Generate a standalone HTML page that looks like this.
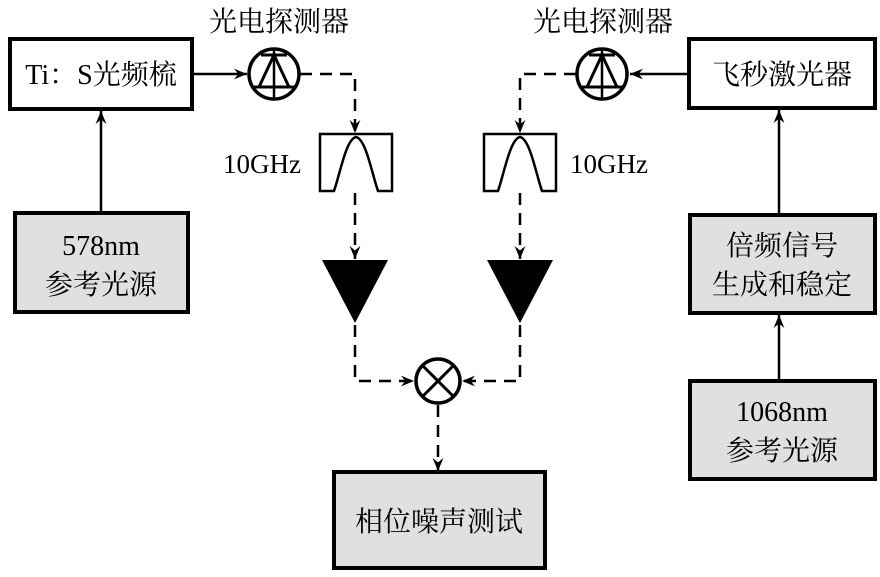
<!DOCTYPE html>
<html><head><meta charset="utf-8"><style>
html,body{margin:0;padding:0;background:#fff;}
svg{display:block;}
text{font-family:"Liberation Serif","Noto Serif CJK SC","Noto Sans CJK SC",serif;fill:#000;}
</style></head><body>
<svg width="880" height="577" viewBox="0 0 880 577" xmlns="http://www.w3.org/2000/svg">
<defs>
<marker id="ah" viewBox="0 0 12 10" refX="12" refY="5" markerWidth="13" markerHeight="11" markerUnits="userSpaceOnUse" orient="auto">
<path d="M0,0 L12,5 L0,10 L4,5 Z" fill="#000"/>
</marker>
<g id="det">
<circle cx="0" cy="0" r="25" fill="#fff" stroke="#000" stroke-width="3.5"/>
<line x1="-13" y1="-19" x2="13" y2="-19" stroke="#000" stroke-width="3"/>
<line x1="-21" y1="13" x2="21" y2="13" stroke="#000" stroke-width="3"/>
<line x1="0" y1="-25" x2="0" y2="25" stroke="#000" stroke-width="2.5"/>
<path d="M0,-19 L-15,13 M0,-19 L15,13" stroke="#000" stroke-width="3" fill="none"/>
</g>
<g id="filt">
<path d="M0,0 H72 V57 H58 C52,40 46,5 36,3 C26,5 20,40 14,57 H0 Z" fill="#fff" stroke="#000" stroke-width="2.5"/>
</g>
</defs>
<g stroke="#000" stroke-width="4">
<rect x="10" y="39" width="182" height="70" fill="#fff"/>
<rect x="15" y="213" width="173" height="99" fill="#e0e0e0"/>
<rect x="689" y="39" width="186" height="69" fill="#fff"/>
<rect x="690" y="215" width="185" height="98" fill="#e0e0e0"/>
<rect x="690" y="381" width="185" height="98" fill="#e0e0e0"/>
<rect x="334" y="472" width="211" height="96" fill="#e0e0e0"/>
</g>
<g stroke="#000" stroke-width="2.5" fill="none">
<line x1="101" y1="212" x2="101" y2="111" marker-end="url(#ah)"/>
<line x1="779" y1="214" x2="779" y2="110" marker-end="url(#ah)"/>
<line x1="779" y1="380" x2="779" y2="315" marker-end="url(#ah)"/>
<line x1="193" y1="74" x2="247" y2="74" marker-end="url(#ah)"/>
<line x1="688" y1="74" x2="630" y2="74" marker-end="url(#ah)"/>
</g>
<g stroke="#000" stroke-width="2.5" fill="none" stroke-dasharray="12,8">
<polyline points="300,74 355,74 355,133" marker-end="url(#ah)"/>
<polyline points="576,74 520,74 520,133" marker-end="url(#ah)"/>
<line x1="355" y1="193" x2="355" y2="259" marker-end="url(#ah)"/>
<line x1="520" y1="193" x2="520" y2="259" marker-end="url(#ah)"/>
<polyline points="355,325 355,381 414,381" marker-end="url(#ah)"/>
<polyline points="520,325 520,381 462,381" marker-end="url(#ah)"/>
<line x1="438" y1="405" x2="438" y2="471" marker-end="url(#ah)"/>
</g>
<use href="#det" x="274" y="74"/>
<use href="#det" x="602" y="74"/>
<use href="#filt" x="320" y="134"/>
<use href="#filt" x="484" y="134"/>
<polygon points="322,260 388,260 355,323" fill="#000"/>
<polygon points="487,260 553,260 520,323" fill="#000"/>
<circle cx="438" cy="381" r="22" fill="#fff" stroke="#000" stroke-width="3.5"/>
<path d="M422,365 L454,397 M454,365 L422,397" stroke="#000" stroke-width="3"/>
<g font-size="28">
<text x="279" y="31" text-anchor="middle">光电探测器</text>
<text x="603" y="31" text-anchor="middle">光电探测器</text>
<text x="101" y="84" text-anchor="middle">Ti：S光频梳</text>
<text x="782" y="84" text-anchor="middle">飞秒激光器</text>
<text x="101" y="255" text-anchor="middle">578nm</text>
<text x="101" y="294" text-anchor="middle">参考光源</text>
<text x="782" y="255" text-anchor="middle">倍频信号</text>
<text x="782" y="294" text-anchor="middle">生成和稳定</text>
<text x="782" y="421" text-anchor="middle">1068nm</text>
<text x="782" y="460" text-anchor="middle">参考光源</text>
<text x="439" y="531" text-anchor="middle">相位噪声测试</text>
<text x="262" y="173" text-anchor="middle" font-size="27">10GHz</text>
<text x="609" y="173" text-anchor="middle" font-size="27">10GHz</text>
</g>
</svg>
</body></html>
